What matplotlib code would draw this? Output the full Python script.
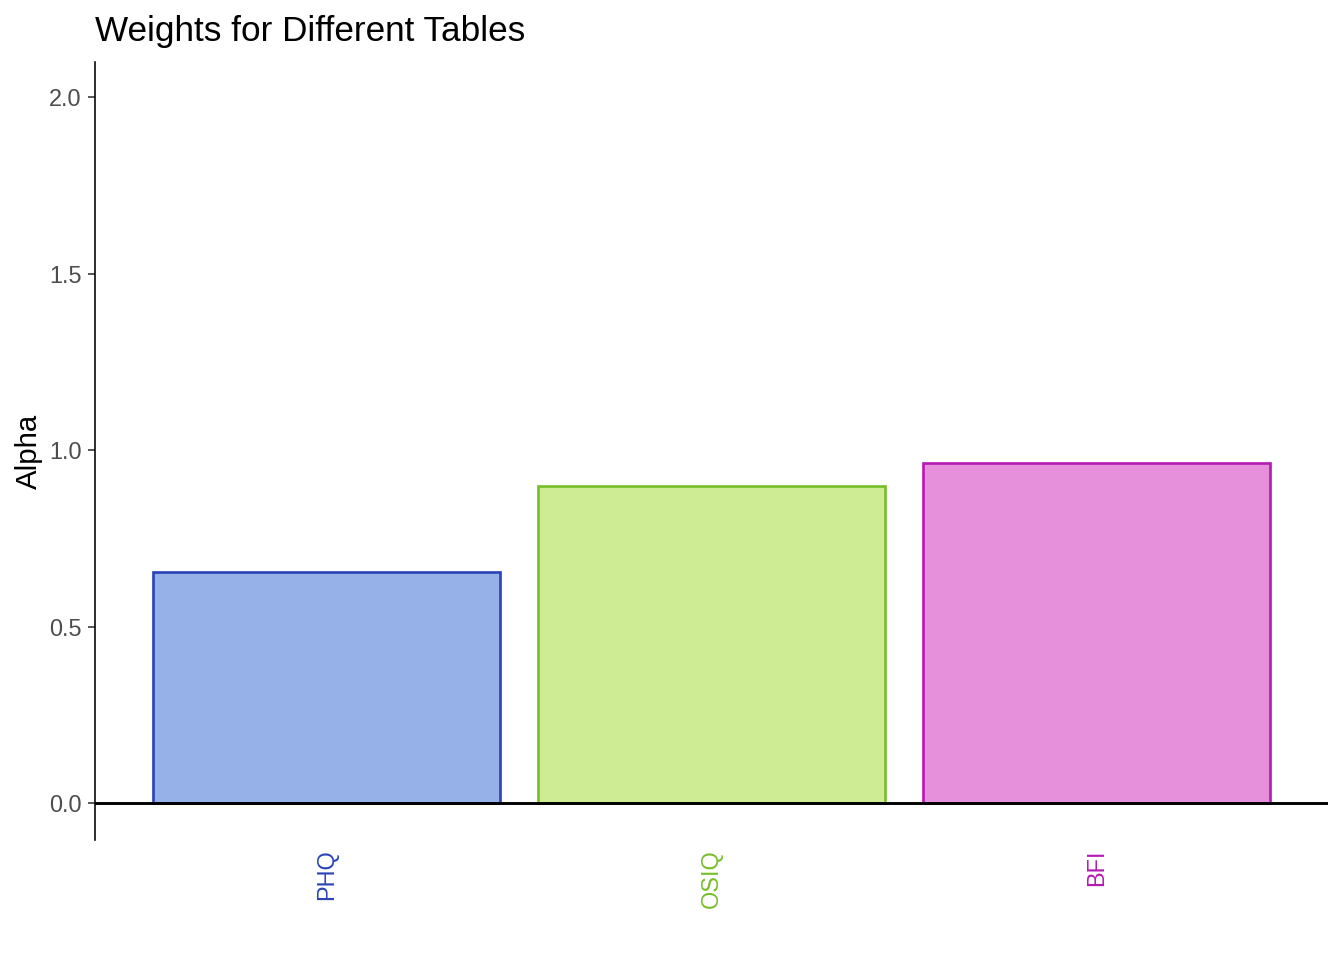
import matplotlib
matplotlib.use("Agg")
import matplotlib.pyplot as plt

plt.rcParams['font.family'] = ['Liberation Sans', 'DejaVu Sans']

# data
tables = ["PHQ", "OSIQ", "BFI"]
alpha_vals = [0.654, 0.898, 0.963]
edge_colors = ["#2a44b8", "#78be2a", "#b41ab4"]
fill_colors = ["#96b0e8", "#cdec94", "#e690dc"]

fig = plt.figure(figsize=(7, 5), dpi=192)
ax = fig.add_axes([95 / 1344, 120 / 960, (1328 - 95) / 1344, (840 - 62) / 960])

x = list(range(1, len(tables) + 1))
ax.bar(x, alpha_vals, width=0.9, color=fill_colors, edgecolor=edge_colors, linewidth=1.0, zorder=2)
ax.axhline(0, color="black", linewidth=1.1, zorder=3)

ax.set_xlim(0.4, 3.6)
ax.set_ylim(-0.105, 2.1)
ax.set_yticks([0.0, 0.5, 1.0, 1.5, 2.0])
ax.set_yticklabels(["0.0", "0.5", "1.0", "1.5", "2.0"])
ax.set_xticks(x)
ax.set_xticklabels(tables, rotation=90, fontsize=8.8)
for lab, c in zip(ax.get_xticklabels(), edge_colors):
    lab.set_color(c)

ax.tick_params(axis="y", labelsize=8.8, labelcolor="#4d4d4d", color="#333333", length=2.75, width=0.6, pad=2.2)
ax.tick_params(axis="x", length=0, pad=3.5)

for s in ["top", "right", "bottom"]:
    ax.spines[s].set_visible(False)
ax.spines["left"].set_linewidth(0.6)

ax.set_ylabel("Alpha", fontsize=11, labelpad=2.5)
ax.set_title("Weights for Different Tables", fontsize=13.2, loc="left", pad=8)

fig.savefig("out.png", dpi=192)
